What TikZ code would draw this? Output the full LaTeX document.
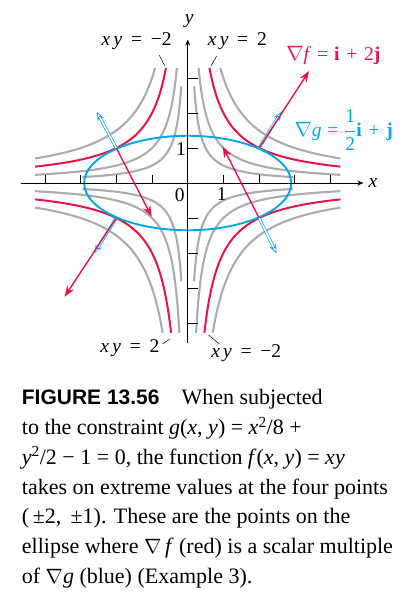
\documentclass[tikz,border=0pt]{standalone}
\usepackage{fontspec}
\setmainfont{Liberation Serif}
\newfontfamily\figfont{Liberation Sans}
\usetikzlibrary{arrows.meta}
\definecolor{curvegray}{RGB}{170,172,175}
\definecolor{gradred}{RGB}{230,20,72}
\definecolor{gradblue}{RGB}{0,168,232}

\begin{document}
\begin{tikzpicture}[
    x=35.7pt, y=35pt,
    level/.style={curvegray, line width=2.1pt},
    redlevel/.style={gradred, line width=2pt},
    axis/.style={-{Stealth[length=6pt,width=5pt]}, line width=0.7pt},
    tick/.style={line width=0.7pt},
    lbl/.style={font=\fontsize{19.5}{22}\selectfont, inner sep=1pt},
    gradf/.style={gradred, line width=1.4pt, -{Stealth[length=11pt,width=8pt]}},
    gradg/.style={draw=gradblue, double=white, double distance=1.6pt, line width=0.7pt, -{Stealth[open,length=9pt,width=7pt]}},
    leader/.style={line width=0.5pt}
]
\useasboundingbox (-5.258,-11.971) rectangle (6.171,5.229);

% level curves xy = c, gray
\foreach \c/\yt/\yb/\xr in {0.5/2.77/2.82/2.95, 1/3.29/4.28/4.28, 3/3.29/4.28/4.28} {
    \draw[level] plot[domain=ln(\c/\yt):ln(\xr), samples=60, smooth] ({exp(\x)}, {\c/exp(\x)});
    \draw[level] plot[domain=ln(\c/\yt):ln(\xr), samples=60, smooth] ({-exp(\x)}, {\c/exp(\x)});
    \draw[level] plot[domain=ln(\c/\yb):ln(\xr), samples=60, smooth] ({-exp(\x)}, {-\c/exp(\x)});
    \draw[level] plot[domain=ln(\c/\yb):ln(\xr), samples=60, smooth] ({exp(\x)}, {-\c/exp(\x)});
}
% xy = 2 and xy = -2
\draw[redlevel] plot[domain=ln(2/3.29):ln(4.28), samples=60, smooth] ({exp(\x)}, {2/exp(\x)});
\draw[redlevel] plot[domain=ln(2/3.29):ln(4.28), samples=60, smooth] ({-exp(\x)}, {2/exp(\x)});
\draw[redlevel] plot[domain=ln(2/4.28):ln(4.28), samples=60, smooth] ({-exp(\x)}, {-2/exp(\x)});
\draw[redlevel] plot[domain=ln(2/4.28):ln(4.28), samples=60, smooth] ({exp(\x)}, {-2/exp(\x)});

% constraint ellipse
\draw[gradblue, line width=1.9pt] (0,0) ellipse [x radius=2.9, y radius=1.35];

% axes
\coordinate (xmin) at (-4.68,0);
\coordinate (xmax) at (4.92,0);
\coordinate (ymin) at (0,-4.58);
\coordinate (ymax) at (0,4.1);
\draw[axis] (xmin) -- (xmax);
\draw[axis] (ymin) -- (ymax);
\foreach \t in {-4,-3,-2,-1,1,2,3,4}
    \draw[tick] (\t,0) -- (\t,0.24);
\foreach \t in {-4,-3,-2,-1,1,2,3}
    \draw[tick] (0,\t) -- (0.3,\t);

\node[lbl] (xlab) at (5.19,0) {\textit{x}};
\node[lbl] (ylab) at (0.04,4.63) {\textit{y}};
\node[lbl] (zero) at (-0.22,-0.34) {0};
\node[lbl] (xone) at (0.95,-0.31) {1};
\node[lbl] (yone) at (-0.19,0.97) {1};

% gradients at the four extreme points
\coordinate (pA) at (2,1);
\coordinate (pB) at (-2,1);
\coordinate (pC) at (-2,-1);
\coordinate (pD) at (2,-1);
\coordinate (fA) at (3.4,3.2);
\coordinate (fB) at (-1.01,-0.96);
\coordinate (fC) at (-3.45,-3.25);
\coordinate (fD) at (0.98,1.04);
\coordinate (gA) at (2.63,2.04);
\coordinate (gB) at (-2.55,2.04);
\coordinate (gC) at (-2.62,-2.01);
\coordinate (gD) at (2.49,-2.01);
\foreach \p in {A,B,C,D} {
    \draw[gradg] (p\p) -- (g\p);
    \draw[gradf] (p\p) -- (f\p);
}

% labels
\node[lbl] (lblTL) at (-1.43,4.04) {\textit{x\,y}\hspace{0.45em}=\hspace{0.45em}−2};
\node[lbl] (lblTR) at (1.39,4.04) {\textit{x\,y}\hspace{0.45em}=\hspace{0.45em}2};
\node[lbl] (lblBL) at (-1.62,-4.72) {\textit{x\,y}\hspace{0.45em}=\hspace{0.45em}2};
\node[lbl] (lblBR) at (1.64,-4.87) {\textit{x\,y}\hspace{0.45em}=\hspace{0.45em}−2};
\node[lbl, text=gradred] (lblF) at (4.08,3.63) {$\nabla$\textit{f}\hspace{0.3em}=\hspace{0.3em}\textbf{i}\hspace{0.35em}+\hspace{0.35em}2\textbf{j}};
\node[lbl, text=gradblue] (lblG) at (4.37,1.51) {$\nabla$\textit{g}\hspace{0.3em}=\hspace{0.3em}$\displaystyle\frac{\mbox{1}}{\mbox{2}}$\textbf{i}\hspace{0.35em}+\hspace{0.35em}\textbf{j}};

\coordinate (tlA) at (-0.8,3.66);
\coordinate (tlB) at (-0.64,3.34);
\coordinate (trA) at (0.81,3.63);
\coordinate (trB) at (0.65,3.34);
\coordinate (blA) at (-0.71,-4.6);
\coordinate (blB) at (-0.5,-4.46);
\coordinate (brA) at (0.58,-4.34);
\coordinate (brB) at (0.89,-4.6);
\draw[leader] (tlA) -- (tlB);
\draw[leader] (trA) -- (trB);
\draw[leader] (blA) -- (blB);
\draw[leader] (brA) -- (brB);

% caption
\node[anchor=north west, inner sep=0pt, align=left, font=\fontsize{22}{29.7}\selectfont] (caption) at (-4.65,-5.9)
    {{\figfont\bfseries\fontsize{21}{29.7}\selectfont FIGURE 13.56}\hspace{22pt}When subjected\\
     to the constraint \textit{g}(\textit{x}, \textit{y}) = \textit{x}\textsuperscript{2}/8 +\\
     \textit{y}\textsuperscript{2}/2 − 1 = 0, the function \textit{f}(\textit{x}, \textit{y}) = \textit{xy}\\
     takes on extreme values at the four points\\
     (\,±2, \,±1). These are the points on the\\
     ellipse where $\nabla$\,\textit{f} (red) is a scalar multiple\\
     of $\nabla$\textit{g} (blue) (Example 3).};
\end{tikzpicture}
\end{document}
